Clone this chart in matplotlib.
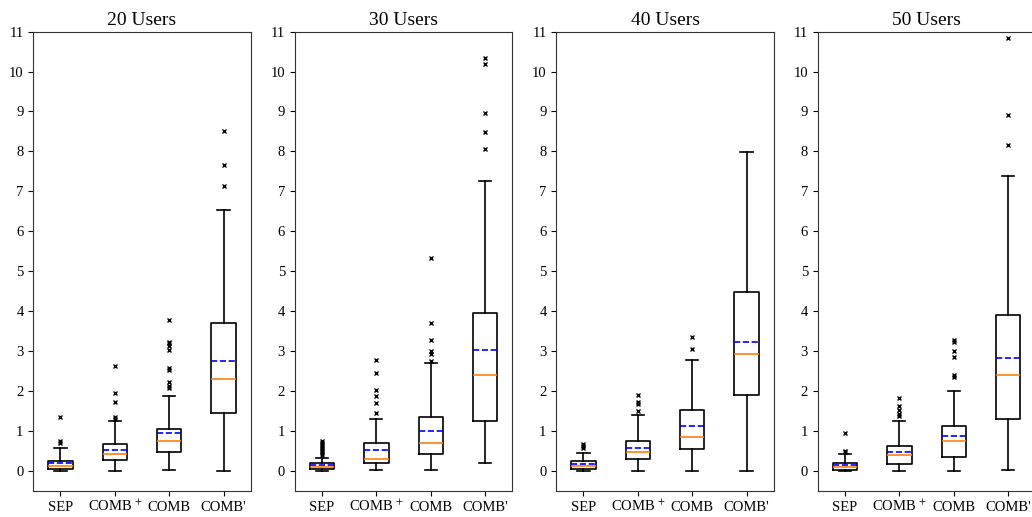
import matplotlib
matplotlib.use("Agg")
import matplotlib.pyplot as plt

plt.rcParams['font.family'] = ['Liberation Serif', 'DejaVu Serif']
plt.rcParams['mathtext.fontset'] = 'stix'

titles = ['20 Users', '30 Users', '40 Users', '50 Users']
methods = ['SEP', r'COMB$^{\,+}$', 'COMB', "COMB'"]

# one row per panel, one value per method
whis_lo = [[0.00, 0.00, 0.02, 0.00],
           [0.00, 0.02, 0.02, 0.19],
           [0.00, 0.00, 0.00, 0.00],
           [0.00, 0.00, 0.00, 0.02]]
q1 = [[0.04, 0.26, 0.46, 1.44],
      [0.03, 0.19, 0.42, 1.23],
      [0.03, 0.29, 0.53, 1.90],
      [0.02, 0.16, 0.34, 1.30]]
medians = [[0.11, 0.42, 0.73, 2.29],
           [0.09, 0.30, 0.69, 2.40],
           [0.11, 0.46, 0.85, 2.91],
           [0.09, 0.39, 0.75, 2.39]]
means = [[0.18, 0.51, 0.94, 2.74],
         [0.15, 0.51, 1.00, 3.02],
         [0.16, 0.57, 1.11, 3.23],
         [0.13, 0.46, 0.87, 2.83]]
q3 = [[0.25, 0.66, 1.04, 3.69],
      [0.18, 0.68, 1.34, 3.94],
      [0.24, 0.75, 1.51, 4.48],
      [0.20, 0.62, 1.11, 3.89]]
whis_hi = [[0.57, 1.24, 1.88, 6.52],
           [0.32, 1.29, 2.70, 7.26],
           [0.43, 1.40, 2.77, 7.98],
           [0.41, 1.23, 2.00, 7.38]]
outliers = [
    [[1.34, 0.75, 0.68],
     [2.61, 1.94, 1.73, 1.34, 1.30],
     [3.78, 3.23, 3.19, 3.12, 3.01, 2.56, 2.51, 2.23, 2.11, 2.06],
     [8.50, 7.67, 7.13]],
    [[0.73, 0.68, 0.63, 0.58, 0.53, 0.48, 0.44, 0.40],
     [2.76, 2.44, 2.01, 1.87, 1.69, 1.44],
     [5.34, 3.70, 3.27, 3.00, 2.92, 2.75],
     [10.34, 10.20, 8.97, 8.48, 8.05]],
    [[0.66, 0.61, 0.57],
     [1.89, 1.73, 1.67, 1.49],
     [3.36, 3.05],
     []],
    [[0.93, 0.49, 0.46],
     [1.83, 1.63, 1.52, 1.42, 1.37],
     [3.27, 3.23, 2.99, 2.84, 2.40, 2.34],
     [10.85, 8.91, 8.16]],
]

fig = plt.figure(figsize=(10.32, 5.17), dpi=100)

left0, step, width = 33.3 / 1032, 261.5 / 1032, 217.5 / 1032
bottom, height = 26.5 / 517, 458.8 / 517

for p in range(4):
    ax = fig.add_axes([left0 + p * step, bottom, width, height])
    stats = []
    for m in range(4):
        stats.append(dict(whislo=whis_lo[p][m], q1=q1[p][m], med=medians[p][m],
                          mean=means[p][m], q3=q3[p][m], whishi=whis_hi[p][m],
                          fliers=outliers[p][m]))
    ax.bxp(stats, widths=0.45, showmeans=True, meanline=True,
           boxprops=dict(color='black', linewidth=1.2),
           whiskerprops=dict(color='black', linewidth=1.2),
           capprops=dict(color='black', linewidth=1.2),
           medianprops=dict(color='#ff7f0e', linewidth=1.2),
           meanprops=dict(color='blue', linestyle='--', linewidth=1.2),
           flierprops=dict(marker='x', markersize=2.5, markeredgecolor='black',
                           markeredgewidth=1.0))
    ax.set_xticks([1, 2, 3, 4])
    ax.set_xticklabels(methods, fontsize=10.5, va='baseline')
    ax.tick_params(axis='x', pad=11)
    ax.set_xlim(0.5, 4.5)
    ax.set_ylim(-0.5, 11)
    ax.set_yticks(range(12))
    ax.tick_params(axis='y', labelsize=10.5)
    ax.set_title(titles[p], fontsize=14, pad=5)
    for s in ax.spines.values():
        s.set_color('#333333')

fig.savefig('out.png', dpi=100)
